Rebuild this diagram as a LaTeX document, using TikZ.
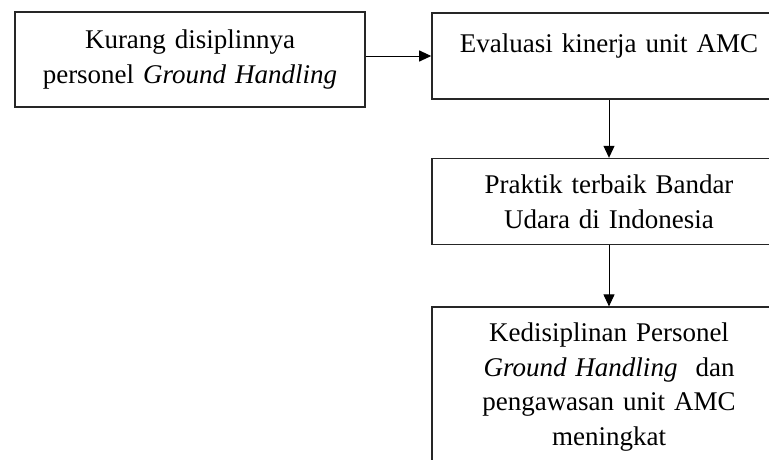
\documentclass[tikz,border=0pt]{standalone}
\usepackage{fontspec}
\setmainfont{Liberation Serif}
\usetikzlibrary{positioning,arrows.meta}

\tikzset{
	kotak/.style={draw=black!85, line width=1.6pt, align=center, inner sep=8pt,
		font=\fontsize{27}{34.5}\selectfont},
	panah/.style={-{Triangle[length=12pt,width=11pt]}, line width=1pt},
}

\begin{document}
\begin{tikzpicture}[x=1pt,y=-1pt]
		\useasboundingbox (0,0) rectangle (769,459);
		\clip (0,0) rectangle (769,459);
		\node[kotak, text width=334pt, minimum height=95pt] (kurang) at (190,59.5)
			{Kurang disiplinnya\\ personel \textit{Ground Handling}};
		\node[kotak, text width=338pt, minimum height=86pt] (evaluasi) at (609,56)
			{Evaluasi kinerja unit AMC\\[-20pt] \strut};
		\node[kotak, text width=338pt, minimum height=86pt, below=58pt of evaluasi] (praktik)
			{Praktik terbaik Bandar\\ Udara di Indonesia};
		\node[kotak, text width=338pt, minimum height=160pt, below=61pt of praktik] (disiplin)
			{Kedisiplinan Personel\\ \textit{Ground Handling}~ dan\\ pengawasan unit AMC\\ meningkat};
		
		\draw[panah] (evaluasi.west -| kurang.east) -- (evaluasi.west);
		\draw[panah] (evaluasi) -- (praktik);
		\draw[panah] (praktik) -- (disiplin);
		\end{tikzpicture}
\end{document}
